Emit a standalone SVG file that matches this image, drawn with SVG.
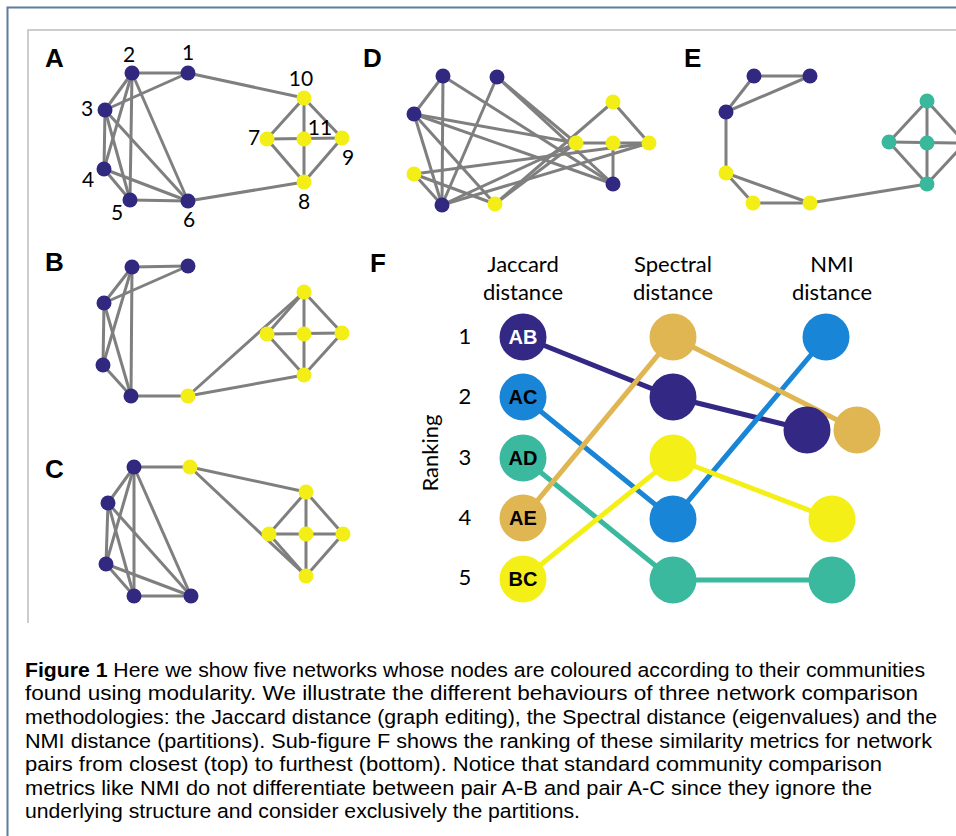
<svg xmlns="http://www.w3.org/2000/svg" width="956" height="836" viewBox="0 0 956 836">
<style>
.e{stroke:#7f7f7f;stroke-width:3;fill:none}
.p{fill:#31287f}.y{fill:#f4ee17}.t{fill:#3ab89c}
.lab{font-family:Lato,"Liberation Sans",sans-serif;font-size:21px;fill:#000}
.pl{font-family:"Liberation Sans",Arial,sans-serif;font-size:26px;font-weight:bold;fill:#000}
.hd{font-family:Lato,"Liberation Sans",sans-serif;font-size:22px;fill:#000;text-anchor:middle}
.cl{font-family:"Liberation Sans",Arial,sans-serif;font-size:20px;font-weight:bold;text-anchor:middle}
.cap{font-family:"Liberation Sans",Arial,sans-serif;font-size:20.5px;fill:#000}
.fl{stroke-width:5;fill:none}
</style>
<rect width="956" height="836" fill="#fff"/>
<path d="M7.5 836V7.5H956" stroke="#5b7e9e" stroke-width="2" fill="none"/>
<path d="M28 623V30H956" stroke="#bdbdbd" stroke-width="1.5" fill="none"/>

<!-- Panel A -->
<g id="panelA">
<text class="pl" x="45" y="67">A</text>
<g class="e">
<line x1="132" y1="73" x2="188" y2="73"/><line x1="188" y1="73" x2="304" y2="98"/>
<line x1="132" y1="73" x2="105" y2="110"/><line x1="132" y1="73" x2="104" y2="169"/>
<line x1="132" y1="73" x2="130" y2="200"/><line x1="132" y1="73" x2="188" y2="201"/>
<line x1="188" y1="73" x2="105" y2="110"/><line x1="105" y1="110" x2="104" y2="169"/>
<line x1="105" y1="110" x2="130" y2="200"/><line x1="105" y1="110" x2="188" y2="201"/>
<line x1="104" y1="169" x2="130" y2="200"/><line x1="104" y1="169" x2="188" y2="201"/>
<line x1="130" y1="200" x2="188" y2="201"/><line x1="188" y1="201" x2="304" y2="182"/>
<line x1="304" y1="98" x2="267" y2="139"/><line x1="304" y1="98" x2="304" y2="139"/>
<line x1="304" y1="98" x2="342" y2="138"/><line x1="267" y1="139" x2="342" y2="138"/>
<line x1="267" y1="139" x2="304" y2="182"/><line x1="304" y1="139" x2="304" y2="182"/>
<line x1="342" y1="138" x2="304" y2="182"/>
</g>
<g class="p"><circle cx="132" cy="73" r="7.5"/><circle cx="188" cy="73" r="7.5"/><circle cx="105" cy="110" r="7.5"/><circle cx="104" cy="169" r="7.5"/><circle cx="130" cy="200" r="7.5"/><circle cx="188" cy="201" r="7.5"/></g>
<g class="y"><circle cx="304" cy="98" r="7.5"/><circle cx="267" cy="139" r="7.5"/><circle cx="304" cy="139" r="7.5"/><circle cx="342" cy="138" r="7.5"/><circle cx="304" cy="182" r="7.5"/></g>
<g class="lab" text-anchor="middle">
<text x="129" y="62">2</text><text x="188" y="60">1</text><text x="87" y="116">3</text><text x="88" y="187">4</text><text x="117" y="220">5</text><text x="189" y="227">6</text>
<text x="301" y="86">10</text><text x="320" y="135">11</text><text x="254" y="145">7</text><text x="348" y="165">9</text><text x="304" y="209">8</text>
</g>
</g>

<!-- Panel D -->
<g id="panelD">
<text class="pl" x="363" y="67">D</text>
<g class="e">
<line x1="443" y1="76" x2="414" y2="114"/><line x1="443" y1="76" x2="442" y2="205"/>
<line x1="443" y1="76" x2="613" y2="184"/><line x1="497" y1="77" x2="442" y2="205"/>
<line x1="497" y1="77" x2="576" y2="143"/><line x1="497" y1="77" x2="613" y2="184"/>
<line x1="414" y1="114" x2="442" y2="205"/><line x1="414" y1="114" x2="495" y2="204"/>
<line x1="414" y1="114" x2="576" y2="143"/><line x1="414" y1="114" x2="613" y2="184"/>
<line x1="414" y1="174" x2="442" y2="205"/><line x1="414" y1="174" x2="495" y2="204"/>
<line x1="414" y1="174" x2="649" y2="143"/><line x1="442" y1="205" x2="576" y2="143"/>
<line x1="442" y1="205" x2="649" y2="143"/><line x1="495" y1="204" x2="613" y2="102"/>
<line x1="495" y1="204" x2="576" y2="143"/><line x1="576" y1="143" x2="649" y2="143"/>
<line x1="613" y1="102" x2="649" y2="143"/><line x1="613" y1="143" x2="613" y2="184"/>
</g>
<g class="p"><circle cx="443" cy="76" r="7.5"/><circle cx="497" cy="77" r="7.5"/><circle cx="414" cy="114" r="7.5"/><circle cx="442" cy="205" r="7.5"/><circle cx="613" cy="184" r="7.5"/></g>
<g class="y"><circle cx="414" cy="174" r="7.5"/><circle cx="495" cy="204" r="7.5"/><circle cx="613" cy="102" r="7.5"/><circle cx="576" cy="143" r="7.5"/><circle cx="613" cy="143" r="7.5"/><circle cx="649" cy="143" r="7.5"/></g>
</g>

<!-- Panel E -->
<g id="panelE">
<text class="pl" x="684" y="67">E</text>
<g class="e">
<line x1="754" y1="76" x2="810" y2="76"/><line x1="754" y1="76" x2="726" y2="112"/>
<line x1="726" y1="112" x2="810" y2="76"/><line x1="726" y1="112" x2="726" y2="173"/>
<line x1="726" y1="173" x2="753" y2="203"/><line x1="726" y1="173" x2="810" y2="203"/>
<line x1="753" y1="203" x2="810" y2="203"/><line x1="810" y1="203" x2="927" y2="184"/>
<line x1="927" y1="101" x2="889" y2="142"/><line x1="927" y1="101" x2="927" y2="184"/>
<line x1="927" y1="101" x2="965" y2="143"/><line x1="889" y1="142" x2="965" y2="143"/>
<line x1="889" y1="142" x2="927" y2="184"/><line x1="927" y1="184" x2="965" y2="143"/>
</g>
<g class="p"><circle cx="754" cy="76" r="7.5"/><circle cx="810" cy="76" r="7.5"/><circle cx="726" cy="112" r="7.5"/></g>
<g class="y"><circle cx="726" cy="173" r="7.5"/><circle cx="753" cy="203" r="7.5"/><circle cx="810" cy="203" r="7.5"/></g>
<g class="t"><circle cx="927" cy="101" r="7.5"/><circle cx="889" cy="142" r="7.5"/><circle cx="927" cy="143" r="7.5"/><circle cx="927" cy="184" r="7.5"/></g>
</g>

<!-- Panel B -->
<g id="panelB">
<text class="pl" x="45" y="271">B</text>
<g class="e">
<line x1="132" y1="267" x2="188" y2="266"/><line x1="132" y1="267" x2="104" y2="303"/>
<line x1="132" y1="267" x2="103" y2="365"/><line x1="132" y1="267" x2="131" y2="396"/>
<line x1="188" y1="266" x2="104" y2="303"/><line x1="104" y1="303" x2="103" y2="365"/>
<line x1="104" y1="303" x2="131" y2="396"/><line x1="103" y1="365" x2="131" y2="396"/>
<line x1="131" y1="396" x2="188" y2="396"/><line x1="188" y1="396" x2="304" y2="292"/>
<line x1="188" y1="396" x2="304" y2="375"/>
<line x1="304" y1="292" x2="267" y2="334"/><line x1="304" y1="292" x2="304" y2="375"/>
<line x1="304" y1="292" x2="342" y2="333"/><line x1="267" y1="334" x2="342" y2="333"/>
<line x1="267" y1="334" x2="304" y2="375"/><line x1="342" y1="333" x2="304" y2="375"/>
</g>
<g class="p"><circle cx="132" cy="267" r="7.5"/><circle cx="188" cy="266" r="7.5"/><circle cx="104" cy="303" r="7.5"/><circle cx="103" cy="365" r="7.5"/><circle cx="131" cy="396" r="7.5"/></g>
<g class="y"><circle cx="188" cy="396" r="7.5"/><circle cx="304" cy="292" r="7.5"/><circle cx="267" cy="334" r="7.5"/><circle cx="304" cy="334" r="7.5"/><circle cx="342" cy="333" r="7.5"/><circle cx="304" cy="375" r="7.5"/></g>
</g>

<!-- Panel C -->
<g id="panelC">
<text class="pl" x="45" y="478">C</text>
<g class="e">
<line x1="134" y1="467" x2="190" y2="467"/><line x1="190" y1="467" x2="306" y2="492"/>
<line x1="190" y1="467" x2="306" y2="576"/>
<line x1="134" y1="467" x2="108" y2="503"/><line x1="134" y1="467" x2="106" y2="564"/>
<line x1="134" y1="467" x2="134" y2="596"/><line x1="134" y1="467" x2="191" y2="596"/>
<line x1="108" y1="503" x2="106" y2="564"/><line x1="108" y1="503" x2="134" y2="596"/>
<line x1="108" y1="503" x2="191" y2="596"/><line x1="106" y1="564" x2="134" y2="596"/>
<line x1="106" y1="564" x2="191" y2="596"/><line x1="134" y1="596" x2="191" y2="596"/>
<line x1="306" y1="492" x2="269" y2="534"/><line x1="306" y1="492" x2="306" y2="576"/>
<line x1="306" y1="492" x2="343" y2="534"/><line x1="269" y1="534" x2="343" y2="534"/>
<line x1="269" y1="534" x2="306" y2="576"/><line x1="343" y1="534" x2="306" y2="576"/>
</g>
<g class="p"><circle cx="134" cy="467" r="7.5"/><circle cx="108" cy="503" r="7.5"/><circle cx="106" cy="564" r="7.5"/><circle cx="134" cy="596" r="7.5"/><circle cx="191" cy="596" r="7.5"/></g>
<g class="y"><circle cx="190" cy="467" r="7.5"/><circle cx="306" cy="492" r="7.5"/><circle cx="269" cy="534" r="7.5"/><circle cx="306" cy="534" r="7.5"/><circle cx="343" cy="534" r="7.5"/><circle cx="306" cy="576" r="7.5"/></g>
</g>

<!-- Panel F -->
<g id="panelF">
<text class="pl" x="370" y="272">F</text>
<text class="hd" x="523" y="272">Jaccard</text><text class="hd" x="523" y="300">distance</text>
<text class="hd" x="673" y="272">Spectral</text><text class="hd" x="673" y="300">distance</text>
<text class="hd" x="832" y="272">NMI</text><text class="hd" x="832" y="300">distance</text>
<g class="hd"><text x="465" y="344">1</text><text x="465" y="404">2</text><text x="465" y="465">3</text><text x="465" y="525">4</text><text x="465" y="585">5</text></g>
<text class="hd" transform="translate(438 453) rotate(-90)">Ranking</text>
</g>
<g id="connectors">
<polyline class="fl" stroke="#332884" points="523,337 673,397 807,430"/>
<polyline class="fl" stroke="#1985d6" points="523,397 673,519 826,337"/>
<polyline class="fl" stroke="#3ab99e" points="523,458 673,580 832,580"/>
<polyline class="fl" stroke="#e0b652" points="523,518 673,337 857,430"/>
<polyline class="fl" stroke="#f4ef17" points="523,579 673,458 832,519"/>
</g>
<g id="jaccard">
<circle cx="523" cy="337" r="23.5" fill="#332884"/><circle cx="523" cy="397" r="23.5" fill="#1985d6"/><circle cx="523" cy="458" r="23.5" fill="#3ab99e"/><circle cx="523" cy="518" r="23.5" fill="#e0b652"/><circle cx="523" cy="579" r="23.5" fill="#f4ef17"/>
<text class="cl" x="523" y="344" fill="#fff">AB</text><text class="cl" x="523" y="404" fill="#000">AC</text><text class="cl" x="523" y="465" fill="#000">AD</text><text class="cl" x="523" y="525" fill="#000">AE</text><text class="cl" x="523" y="586" fill="#000">BC</text>
</g>
<g id="spectral">
<circle cx="673" cy="337" r="23.5" fill="#e0b652"/><circle cx="673" cy="397" r="23.5" fill="#332884"/><circle cx="673" cy="458" r="23.5" fill="#f4ef17"/><circle cx="673" cy="519" r="23.5" fill="#1985d6"/><circle cx="673" cy="580" r="23.5" fill="#3ab99e"/>
</g>
<g id="nmi">
<circle cx="826" cy="337" r="23.5" fill="#1985d6"/><circle cx="807" cy="430" r="23.5" fill="#332884"/><circle cx="857" cy="430" r="23.5" fill="#e0b652"/><circle cx="832" cy="519" r="23.5" fill="#f4ef17"/><circle cx="832" cy="580" r="23.5" fill="#3ab99e"/>
</g>

<!-- Caption -->
<g id="caption" class="cap">
<text x="25" y="677" textLength="900" lengthAdjust="spacingAndGlyphs"><tspan font-weight="bold">Figure 1</tspan> Here we show five networks whose nodes are coloured according to their communities</text>
<text x="25" y="700" textLength="893" lengthAdjust="spacingAndGlyphs">found using modularity. We illustrate the different behaviours of three network comparison</text>
<text x="25" y="724" textLength="912" lengthAdjust="spacingAndGlyphs">methodologies: the Jaccard distance (graph editing), the Spectral distance (eigenvalues) and the</text>
<text x="25" y="748" textLength="907" lengthAdjust="spacingAndGlyphs">NMI distance (partitions). Sub-figure F shows the ranking of these similarity metrics for network</text>
<text x="25" y="771" textLength="857" lengthAdjust="spacingAndGlyphs">pairs from closest (top) to furthest (bottom). Notice that standard community comparison</text>
<text x="25" y="795" textLength="847" lengthAdjust="spacingAndGlyphs">metrics like NMI do not differentiate between pair A-B and pair A-C since they ignore the</text>
<text x="25" y="818" textLength="555" lengthAdjust="spacingAndGlyphs">underlying structure and consider exclusively the partitions.</text>
</g>
</svg>
